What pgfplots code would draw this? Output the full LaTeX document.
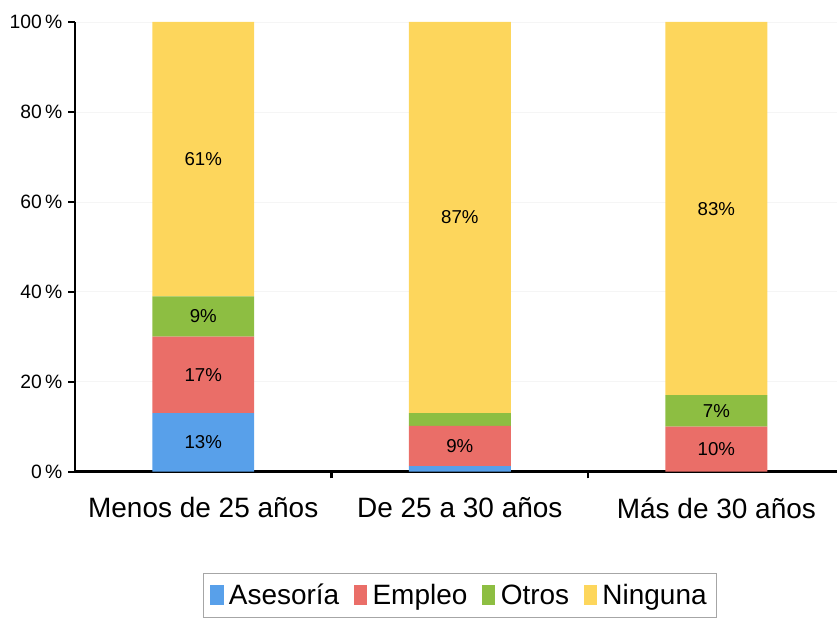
\documentclass[border=0pt]{standalone}
\usepackage{pgfplots}
\pgfplotsset{compat=1.18}
\usepackage{fontspec}
\setmainfont{Liberation Sans}

\definecolor{cAse}{RGB}{88,160,234}
\definecolor{cEmp}{RGB}{234,110,104}
\definecolor{cOtr}{RGB}{141,190,66}
\definecolor{cNin}{RGB}{253,214,92}

\begin{document}
\begin{tikzpicture}
\begin{axis}[
    ybar stacked,
    scale only axis,
    width=572pt, height=337.5pt,
    xmin=-0.5, xmax=2.47,
    ymin=0, ymax=100,
    bar width=76.5pt,
    axis lines*=left,
    axis line style={line width=1.8pt},
    tick align=outside,
    major tick length=5pt,
    tick style={black, line width=1.6pt},
    ytick={0,20,40,60,80,100},
    yticklabels={0\,\%,20\,\%,40\,\%,60\,\%,80\,\%,100\,\%},
    yticklabel style={font=\fontsize{14.5}{16}\selectfont, xshift=-1pt},
    xtick={0.5,1.5},
    xticklabels={},
    extra x ticks={0,1,2},
    extra x tick labels={Menos de 25 años, De 25 a 30 años, Más de 30 años},
    extra x tick style={major tick length=0pt, xticklabel style={font=\fontsize{21}{24}\selectfont, yshift=-16pt}},
    ymajorgrids=true,
    grid style={gray!8},
    point meta=explicit symbolic,
    nodes near coords,
    every node near coord/.append style={anchor=center, black, font=\fontsize{14}{16}\selectfont},
    legend columns=4,
    legend style={at={(axis description cs:0.505,0)}, anchor=north, yshift=-76pt,
        draw=gray!70, line width=0.6pt, font=\fontsize{21}{25}\selectfont,
        inner xsep=5pt, inner ysep=6pt,
        /tikz/every odd column/.append style={column sep=2pt},
        /tikz/every even column/.append style={column sep=9pt}},
    legend cell align=left,
    name=ax,
]
\addplot+[fill=cAse, draw=none, legend image code/.code={\fill[cAse] (0pt,-7pt) rectangle (10pt,8pt);}]
    coordinates {(0,13) [13\%] (1,1.2) [{}] (2,0) [{}]};
\addplot+[fill=cEmp, draw=none, legend image code/.code={\fill[cEmp] (0pt,-7pt) rectangle (10pt,8pt);}]
    coordinates {(0,17) [17\%] (1,9) [9\%] (2,10) [10\%]};
\addplot+[fill=cOtr, draw=none, legend image code/.code={\fill[cOtr] (0pt,-7pt) rectangle (10pt,8pt);}]
    coordinates {(0,9) [9\%] (1,2.8) [{}] (2,7) [7\%]};
\addplot+[fill=cNin, draw=none, legend image code/.code={\fill[cNin] (0pt,-7pt) rectangle (10pt,8pt);}]
    coordinates {(0,61) [61\%] (1,87) [87\%] (2,83) [83\%]};
\legend{Asesoría, Empleo, Otros, Ninguna}
\coordinate (bl) at (rel axis cs:0,0);
\coordinate (tr) at (rel axis cs:1,1);
\end{axis}
\pgfresetboundingbox
\path[use as bounding box] ([xshift=-56.25pt,yshift=-114pt]bl) rectangle ([yshift=16.5pt]tr);
\end{tikzpicture}
\end{document}
